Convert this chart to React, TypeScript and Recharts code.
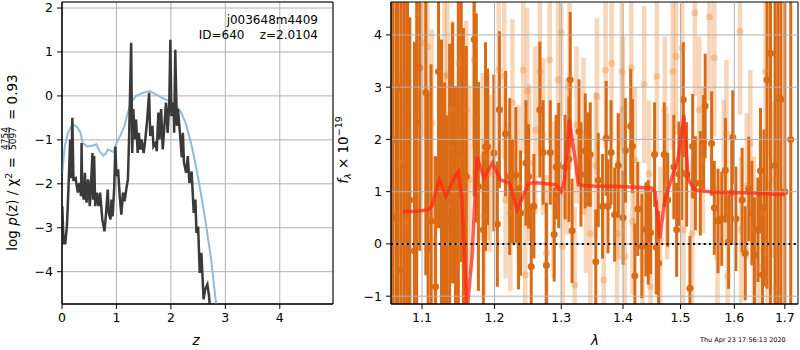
import React from 'react';
import {
  ComposedChart,
  Line,
  Scatter,
  ErrorBar,
  XAxis,
  YAxis,
  CartesianGrid,
  ReferenceLine,
  ReferenceArea,
} from 'recharts';

// left panel: p(z)
const zTicks = [0, 1, 2, 3, 4];
const pzTicks = [-4, -3, -2, -1, 0, 1, 2];

const pzZ = [0.005, 0.03, 0.06, 0.09, 0.12, 0.15, 0.17, 0.19, 0.21, 0.25, 0.29, 0.32, 0.35, 0.36, 0.37, 0.4, 0.42, 0.45, 0.48, 0.51, 0.53, 0.56, 0.57, 0.59, 0.61, 0.64, 0.67, 0.7, 0.74, 0.78, 0.81, 0.84, 0.86, 0.89, 0.91, 0.93, 0.96, 0.98, 1.0, 1.03, 1.06, 1.09, 1.12, 1.15, 1.18, 1.21, 1.23, 1.27, 1.29, 1.31, 1.34, 1.36, 1.39, 1.41, 1.44, 1.46, 1.5, 1.53, 1.56, 1.6, 1.62, 1.66, 1.68, 1.72, 1.74, 1.77, 1.79, 1.82, 1.85, 1.88, 1.91, 1.94, 1.97, 1.99, 2.01, 2.05, 2.06, 2.08, 2.11, 2.13, 2.17, 2.2, 2.22, 2.24, 2.28, 2.31, 2.34, 2.38, 2.42, 2.45, 2.47, 2.5, 2.53, 2.56, 2.6, 2.63, 2.67, 2.7, 2.73];
const pzV = [-2.51, -3.35, -3.35, -2.97, -2.06, -0.99, -1.87, -0.5, -1.9, -1.87, -2.2, -1.98, -2.28, -1.07, -2.13, -2.36, -1.75, -2.43, -1.9, -2.51, -2.06, -1.3, -2.36, -1.37, -2.51, -2.2, -2.51, -2.2, -2.81, -3.08, -2.66, -2.13, -2.66, -2.81, -2.36, -2.74, -2.06, -1.15, -1.82, -1.67, -2.28, -2.7, -2.2, -2.4, -2.13, -1.9, -1.07, 1.21, -1.3, -0.3, -0.99, -0.54, -1.3, -0.84, -1.22, -0.99, -1.3, -0.99, -0.61, 0.07, -0.91, -0.68, -1.15, -1.07, -1.26, -0.38, -0.99, -0.3, -1.22, -0.68, -0.15, -0.84, -0.15, 1.28, -0.46, -0.15, -0.84, 1.05, -0.68, -0.3, -0.91, -1.4, -0.84, -1.52, -1.75, -1.37, -1.98, -1.72, -2.66, -2.36, -3.12, -2.97, -4.03, -3.57, -4.63, -4.4, -4.29, -4.55, -5.0];

const priorZ = [0.005, 0.05, 0.11, 0.17, 0.21, 0.29, 0.34, 0.38, 0.46, 0.57, 0.63, 0.69, 0.76, 0.81, 0.84, 0.88, 0.95, 1.0, 1.07, 1.15, 1.21, 1.27, 1.36, 1.48, 1.61, 1.73, 1.85, 1.97, 2.1, 2.19, 2.28, 2.37, 2.46, 2.55, 2.64, 2.74, 2.83, 2.9];
const priorV = [-1.75, -1.15, -0.84, -0.69, -0.65, -0.73, -0.84, -1.07, -1.15, -1.13, -1.1, -1.26, -1.36, -1.3, -1.22, -1.24, -1.28, -1.07, -0.91, -0.68, -0.38, -0.15, 0.0, 0.07, 0.11, 0.03, -0.05, -0.12, -0.23, -0.38, -0.65, -1.07, -1.6, -2.21, -2.89, -3.73, -4.73, -5.5];

// right panel: spectrum
const lamTicks = [1.1, 1.2, 1.3, 1.4, 1.5, 1.6, 1.7];
const fluxTicks = [-1, 0, 1, 2, 3, 4];

const darkLam = [1.062, 1.066, 1.069, 1.073, 1.077, 1.081, 1.084, 1.09, 1.093, 1.097, 1.105, 1.108, 1.112, 1.118, 1.122, 1.126, 1.13, 1.133, 1.137, 1.141, 1.145, 1.149, 1.153, 1.156, 1.16, 1.171, 1.174, 1.177, 1.184, 1.187, 1.19, 1.199, 1.204, 1.207, 1.216, 1.222, 1.226, 1.231, 1.235, 1.238, 1.246, 1.25, 1.254, 1.258, 1.267, 1.272, 1.277, 1.283, 1.289, 1.292, 1.296, 1.306, 1.312, 1.314, 1.317, 1.328, 1.331, 1.338, 1.342, 1.346, 1.355, 1.359, 1.366, 1.372, 1.375, 1.38, 1.386, 1.392, 1.4, 1.404, 1.413, 1.416, 1.42, 1.425, 1.432, 1.439, 1.443, 1.447, 1.454, 1.457, 1.461, 1.471, 1.477, 1.488, 1.493, 1.497, 1.502, 1.505, 1.511, 1.517, 1.522, 1.527, 1.536, 1.542, 1.545, 1.557, 1.562, 1.569, 1.576, 1.583, 1.589, 1.595, 1.597, 1.603, 1.615, 1.621, 1.628, 1.634, 1.639, 1.646, 1.651, 1.655, 1.658, 1.664, 1.671, 1.68, 1.686, 1.692, 1.7, 1.712];
const darkFlux = [2.0, 0.5, 3.0, -0.5, 1.5, 2.5, 0.84, -0.13, 2.33, 3.37, 2.9, -0.11, 0.44, -0.82, 3.3, 0.91, 0.59, 0.46, 0.83, 1.74, 0.52, 1.72, 2.15, 1.13, 1.29, 3.91, 2.41, 1.1, 0.27, 1.86, 1.86, 1.74, 0.38, 2.57, 2.11, 1.29, 1.0, 1.32, 0.13, 0.59, 1.55, 1.29, -0.43, 0.72, 2.57, 1.75, -0.41, 1.75, 0.18, 1.47, 1.5, 1.47, 1.62, 3.14, 0.25, 2.15, 1.33, 1.78, 1.62, 1.71, -0.34, 1.22, 0.72, 2.02, 0.72, 1.75, 0.56, 1.5, 0.5, 1.79, 2.25, 1.87, -0.61, 0.67, -0.04, 0.28, 0.22, 0.22, 1.71, -0.07, -0.37, 1.71, 0.84, 1.47, 0.27, 1.34, 1.36, 2.76, 1.33, -0.85, 1.87, 1.16, 1.16, 1.95, 2.64, 1.92, 0.69, 0.44, 0.48, 1.41, 0.04, 0.98, 2.04, 0.48, 0.84, -0.18, 1.05, 0.59, -0.21, 0.27, 1.4, -0.59, 0.69, 3.14, 3.65, 1.5, 2.79, 2.77, 1.0, 2.0];
const darkErr = [6, 6, 5, 6, 5, 4.5, 3.5, 4, 4, 3.5, 3.5, 3, 3, 2.5, 3, 3, 2.5, 2, 3, 2.5, 2.5, 3, 2.5, 3, 2.5, 3, 2, 2, 1.5, 2, 1.5, 1.5, 1.2, 1.5, 1.2, 1.5, 1.0, 1.3, 1.0, 1.2, 1.2, 1.0, 1.2, 1.0, 1.3, 1.0, 1.2, 1.0, 0.9, 1.0, 1.2, 1.0, 1.2, 1.3, 1.0, 1.0, 1.0, 1.1, 0.9, 1.0, 1.0, 0.9, 1.0, 1.1, 0.9, 1.0, 0.9, 1.0, 0.9, 1.0, 1.1, 0.9, 1.0, 0.9, 1.0, 0.9, 1.0, 0.8, 1.0, 0.9, 1.0, 1.0, 0.9, 1.0, 0.9, 1.0, 0.9, 1.1, 1.0, 1.0, 1.0, 0.9, 1.0, 0.9, 1.0, 1.0, 0.9, 1.0, 0.9, 1.0, 0.9, 1.0, 0.9, 1.0, 1.0, 0.9, 1.0, 1.0, 1.1, 1.0, 1.2, 1.3, 1.5, 4, 5, 5, 5, 5, 6, 6];

const lightLam = [1.072, 1.079, 1.095, 1.102, 1.107, 1.113, 1.116, 1.13, 1.134, 1.139, 1.141, 1.15, 1.157, 1.16, 1.164, 1.171, 1.183, 1.185, 1.19, 1.193, 1.206, 1.214, 1.216, 1.223, 1.226, 1.235, 1.242, 1.245, 1.248, 1.251, 1.26, 1.267, 1.272, 1.277, 1.282, 1.288, 1.295, 1.3, 1.302, 1.309, 1.313, 1.321, 1.324, 1.335, 1.339, 1.346, 1.355, 1.357, 1.368, 1.371, 1.381, 1.39, 1.393, 1.398, 1.4, 1.403, 1.414, 1.416, 1.42, 1.433, 1.436, 1.444, 1.447, 1.458, 1.464, 1.472, 1.476, 1.486, 1.492, 1.503, 1.505, 1.521, 1.526, 1.534, 1.541, 1.553, 1.562, 1.568, 1.58, 1.585, 1.587, 1.611, 1.613, 1.624, 1.631, 1.638, 1.647, 1.657, 1.661, 1.664, 1.667, 1.675, 1.682, 1.684];
const lightFlux = [1.55, 0.43, 4.42, 3.84, 3.78, 2.31, 0.08, 3.21, 3.24, 1.8, 2.57, 3.46, -0.43, 2.57, 1.23, 3.52, 1.67, 0.52, 1.67, 1.35, 3.33, 3.21, 0.84, 0.59, 2.7, 1.16, 3.33, -0.59, 2.92, 1.55, 2.18, 3.3, 2.06, -0.18, 3.52, 0.84, 3.14, 4.04, -0.05, 1.68, 3.01, -0.79, 2.28, 2.06, 0.84, 0.2, 1.5, 2.82, -0.69, 3.33, 3.46, 0.2, 1.1, 3.3, 2.57, -0.24, 3.37, 0.43, 1.61, -0.31, 3.05, 1.34, -0.82, 3.21, 0.08, 2.57, 1.1, 3.3, 3.59, 3.75, 0.27, 0.2, 4.42, 2.57, 1.61, 4.35, 3.56, -0.27, 1.36, 2.12, -0.62, 4.07, 0.27, 1.1, 1.93, 0.27, -0.43, 0.59, 3.3, -0.18, 3.14, 1.23, -0.85, 2.82];
const lightErr = [1.8, 1.7, 1.9, 1.8, 1.7, 1.8, 1.6, 1.8, 1.7, 1.6, 1.7, 1.8, 1.6, 1.7, 1.8, 1.7, 1.6, 1.5, 1.6, 1.5, 1.7, 1.6, 1.5, 1.5, 1.6, 1.5, 1.6, 1.5, 1.6, 1.5, 1.6, 1.6, 1.5, 1.5, 1.6, 1.5, 1.6, 1.6, 1.5, 1.5, 1.6, 1.5, 1.5, 1.5, 1.4, 1.5, 1.4, 1.5, 1.5, 1.5, 1.5, 1.4, 1.4, 1.5, 1.4, 1.4, 1.5, 1.4, 1.4, 1.4, 1.5, 1.4, 1.4, 1.5, 1.4, 1.4, 1.4, 1.5, 1.5, 1.5, 1.4, 1.4, 1.6, 1.4, 1.4, 1.6, 1.5, 1.4, 1.4, 1.4, 1.4, 1.6, 1.4, 1.4, 1.4, 1.4, 1.4, 1.4, 1.5, 1.4, 1.5, 1.5, 1.6, 1.6];

const modelLam = [1.075, 1.09, 1.108, 1.113, 1.123, 1.132, 1.142, 1.149, 1.154, 1.161, 1.168, 1.175, 1.185, 1.197, 1.208, 1.222, 1.233, 1.25, 1.262, 1.293, 1.3, 1.305, 1.3125, 1.322, 1.327, 1.351, 1.395, 1.4485, 1.455, 1.463, 1.472, 1.496, 1.506, 1.514, 1.526, 1.56, 1.624, 1.7];
const modelFlux = [0.62, 0.62, 0.65, 0.72, 1.23, 0.91, 1.23, 1.38, 0.84, -1.3, -0.24, 1.67, 1.26, 1.55, 1.23, 1.16, 0.65, 1.16, 1.17, 1.13, 1.0, 1.23, 2.38, 1.61, 1.13, 1.11, 1.1, 1.07, 0.99, 0.11, 0.84, 1.67, 2.47, 1.23, 1.03, 0.99, 0.98, 0.94];

const pzData = pzZ.map((z, i) => ({ z, v: pzV[i] }));
const priorData = priorZ.map((z, i) => ({ z, v: priorV[i] }));
const darkData = darkLam.map((lam, i) => ({ lam, f: darkFlux[i], e: darkErr[i] }));
const lightData = lightLam.map((lam, i) => ({ lam, f: lightFlux[i], e: lightErr[i] }));
const modelData = modelLam.map((lam, i) => ({ lam, f: modelFlux[i] }));

const fmt = (v: number) => (v < 0 ? '\u2212' + Math.abs(v) : String(v));
const tickStyle = { fill: '#000', fontSize: 12.5 };

const ZMAX = 4.977;
const PZMIN = -4.735;
const PZMAX = 2.137;
const LMIN = 1.0598;
const LMAX = 1.727;
const FMIN = -1.15;
const FMAX = 4.63;

const darkDot = (p: any) => <circle cx={p.cx} cy={p.cy} r={3.5} fill="#d96b16" />;
const lightDot = (p: any) => <circle cx={p.cx} cy={p.cy} r={3.5} fill="#e8822a" fillOpacity={0.32} />;

export default function App() {
  return (
    <div style={{ position: 'absolute', left: 0, top: 0, width: 800, height: 350, fontFamily: 'DejaVu Sans', background: '#fff' }}>
      <div style={{ position: 'absolute', left: 0, top: 0 }}>
        <ComposedChart width={340} height={350} margin={{ top: 2, right: 7, bottom: 0, left: 0 }}>
          <CartesianGrid stroke="#b0b0b0" strokeWidth={1} />
          <XAxis type="number" dataKey="z" domain={[0, ZMAX]} ticks={zTicks} allowDataOverflow interval={0}
            height={46} tickSize={5} tickMargin={4} tick={tickStyle} tickLine={{ stroke: '#000' }} axisLine={{ stroke: '#000' }} />
          <YAxis type="number" dataKey="v" domain={[PZMIN, PZMAX]} ticks={pzTicks} allowDataOverflow interval={0}
            width={62} tickSize={5} tickMargin={4} tick={tickStyle} tickFormatter={fmt} tickLine={{ stroke: '#000' }} axisLine={{ stroke: '#000' }} />
          <Line data={priorData} dataKey="v" type="linear" stroke="#8fbbd9" strokeWidth={2} dot={false} isAnimationActive={false} />
          <Line data={pzData} dataKey="v" type="linear" stroke="#3a3a3a" strokeWidth={2.5} dot={false} isAnimationActive={false} />
          <ReferenceArea x1={0} x2={ZMAX} y1={PZMIN} y2={PZMAX} fill="none" fillOpacity={0} stroke="#000" strokeWidth={1} />
          <text x={318} y={24} textAnchor="end" fontSize={12}>j003648m4409</text>
          <text x={318} y={39} textAnchor="end" fontSize={12} xmlSpace="preserve">ID=640    z=2.0104</text>
          <text x={196} y={345} textAnchor="middle" fontSize={13.5} fontStyle="italic">z</text>
          <g transform="translate(17,156.5) rotate(-90)" fontSize={13.5}>
            <text x={-0.5} y={0} textAnchor="end">
              log <tspan fontStyle="italic">p</tspan>(z) / χ<tspan dy={-5} fontSize={9.5}>2</tspan><tspan dy={5}> =</tspan>
            </text>
            <text x={18} y={-9.5} textAnchor="middle" fontSize={9}>4754</text>
            <line x1={6.5} x2={29.5} y1={-8} y2={-8} stroke="#000" strokeWidth={0.8} />
            <text x={18} y={-1} textAnchor="middle" fontSize={9}>5097</text>
            <text x={36.5} y={0} textAnchor="start">= 0.93</text>
          </g>
        </ComposedChart>
      </div>
      {/* spectrum points: own svg sized to the plot box so the long error bars are clipped */}
      <div style={{ position: 'absolute', left: 391, top: 2 }}>
        <ComposedChart width={407} height={302} margin={{ top: 0, right: 0, bottom: 0, left: 0 }}>
          <XAxis hide type="number" scale="log" dataKey="lam" domain={[LMIN, LMAX]} allowDataOverflow />
          <YAxis hide type="number" dataKey="f" domain={[FMIN, FMAX]} allowDataOverflow />
          <Scatter data={lightData} dataKey="f" shape={lightDot} isAnimationActive={false}>
            <ErrorBar dataKey="e" direction="y" width={0} stroke="#e8822a" strokeOpacity={0.33} strokeWidth={4.5} isAnimationActive={false} />
          </Scatter>
          <Scatter data={darkData} dataKey="f" shape={darkDot} isAnimationActive={false}>
            <ErrorBar dataKey="e" direction="y" width={0} stroke="#d96b16" strokeWidth={3} isAnimationActive={false} />
          </Scatter>
        </ComposedChart>
      </div>
      <div style={{ position: 'absolute', left: 330, top: 0 }}>
        <ComposedChart width={470} height={350} margin={{ top: 2, right: 2, bottom: 0, left: 0 }}>
          <XAxis type="number" scale="log" dataKey="lam" domain={[LMIN, LMAX]} ticks={lamTicks} allowDataOverflow interval={0}
            height={46} tickSize={5} tickMargin={4} tick={tickStyle} tickLine={{ stroke: '#000' }} axisLine={{ stroke: '#000' }} />
          <YAxis type="number" dataKey="f" domain={[FMIN, FMAX]} ticks={fluxTicks} allowDataOverflow interval={0}
            width={61} tickSize={5} tickMargin={4} tick={tickStyle} tickFormatter={fmt} tickLine={{ stroke: '#000' }} axisLine={{ stroke: '#000' }} />
          {lamTicks.map((t) => (
            <ReferenceLine key={'gx' + t} x={t} stroke="#b0b0b0" strokeWidth={1} />
          ))}
          {fluxTicks.map((t) => (
            <ReferenceLine key={'gy' + t} y={t} stroke="#b0b0b0" strokeWidth={1} />
          ))}
          <Line data={modelData} dataKey="f" type="linear" stroke="#ff2a1a" strokeOpacity={0.75} strokeWidth={3.5} dot={false} isAnimationActive={false} />
          <ReferenceLine y={0} stroke="#000" strokeDasharray="2 3.3" strokeWidth={2} />
          <ReferenceArea x1={LMIN} x2={LMAX} y1={FMIN} y2={FMAX} fill="none" fillOpacity={0} stroke="#000" strokeWidth={1} />
          <text x={265} y={345} textAnchor="middle" fontSize={13.5} fontStyle="italic">λ</text>
          <g transform="translate(18,150) rotate(-90)" fontSize={13.5}>
            <text x={0} y={0} textAnchor="middle">
              <tspan fontStyle="italic">f</tspan><tspan dy={3} fontSize={9.5} fontStyle="italic">λ</tspan><tspan dy={-3}> × 10</tspan><tspan dy={-6} fontSize={9.5}>−19</tspan>
            </text>
          </g>
          <text x={370} y={342} fontSize={6.5}>Thu Apr 23 17:56:13 2020</text>
        </ComposedChart>
      </div>
    </div>
  );
}
